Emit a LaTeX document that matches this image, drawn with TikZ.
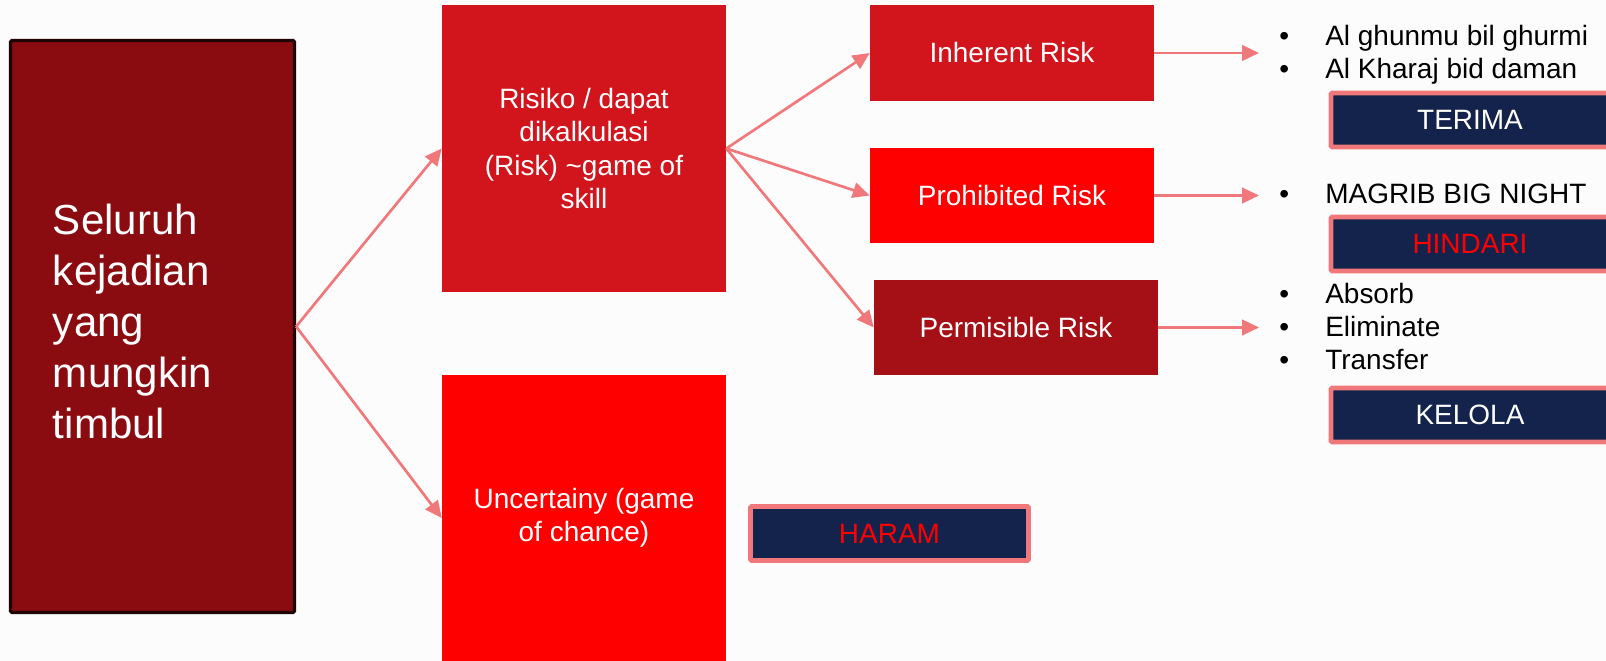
\documentclass[tikz,border=0pt]{standalone}
\usepackage{fontspec}
\setmainfont{Liberation Sans}
\usetikzlibrary{arrows.meta}

\definecolor{bgwhite}{HTML}{FCFCFC}
\definecolor{darkmaroon}{HTML}{8B0C10}
\definecolor{borderdark}{HTML}{200304}
\definecolor{riskred}{HTML}{D2141C}
\definecolor{brightred}{HTML}{FF0000}
\definecolor{permred}{HTML}{A50F16}
\definecolor{navyblue}{HTML}{14234B}
\definecolor{pinkline}{HTML}{F0787A}

\tikzset{
    riskbox/.style={fill=#1, text=white, minimum width=7.1cm, inner sep=0pt, align=center,
        font=\fontsize{19.9pt}{23.8pt}\selectfont},
    verdict/.style={draw=pinkline, line width=3.5pt, fill=navyblue, text=#1, rounded corners=1pt,
        minimum width=6.95cm, minimum height=1.35cm, font=\fontsize{19.9pt}{23.8pt}\selectfont},
    link/.style={draw=pinkline, line width=1.9pt, -{Triangle[length=12pt,width=11pt]}},
    itemlist/.style={anchor=base west, align=left, inner sep=0pt,
        font=\fontsize{19.9pt}{23.8pt}\selectfont},
}
\newcommand{\bul}{\makebox[1.15cm][l]{\textbullet}}

\begin{document}
\begin{tikzpicture}
        \useasboundingbox (0,0) rectangle (40.15,-16.525);
        \fill [bgwhite] (0,0) rectangle (40.15,-16.525);

        %% kotak utama
        \node [fill=darkmaroon, draw=borderdark, line width=2.3pt, rounded corners=1pt,
            minimum width=7.1cm, minimum height=14.3cm, text width=4.975cm, inner sep=0pt,
            align=left, text=white, font=\fontsize{29.9pt}{36.3pt}\selectfont]
            (events) at (3.8125,-8.1625) {Seluruh\strut\\ kejadian\\ yang\\ mungkin\\ timbul\strut};

        %% risiko dan ketidakpastian
        \node [riskbox=riskred, minimum height=7.175cm] (risk) at (14.6,-3.7125)
            {Risiko / dapat\\ dikalkulasi\\ (Risk) \textasciitilde game of\\ skill};
        \node [riskbox=brightred, minimum height=7.15cm] (uncert) at (14.6,-12.95)
            {Uncertainy (game\\ of chance)};

        \draw [link] (events.east) -- (risk.west);
        \draw [link] (events.east) -- (uncert.west);

        %% jenis risiko
        \node [riskbox=riskred, minimum height=2.4cm] (inherent) at (25.3,-1.325) {Inherent Risk};
        \node [riskbox=brightred, minimum height=2.375cm] (prohib) at (25.3,-4.8875) {Prohibited Risk};
        \node [riskbox=permred, minimum height=2.375cm] (permis) at (25.4,-8.1875) {Permisible Risk};

        \draw [link] (risk.east) -- (inherent.west);
        \draw [link] (risk.east) -- (prohib.west);
        \draw [link] (risk.east) -- (permis.west);

        \coordinate (inherent-end) at (31.475,-1.325);
        \coordinate (prohib-end) at (31.475,-4.8875);
        \coordinate (permis-end) at (31.475,-8.1875);

        \draw [link] (inherent.east) -- (inherent-end);
        \draw [link] (prohib.east) -- (prohib-end);
        \draw [link] (permis.east) -- (permis-end);

        %% daftar dan sikap (base = baris terakhir)
        \node [itemlist] (inherent-list) at (31.975,-1.975)
            {\bul Al ghunmu bil ghurmi\\ \bul Al Kharaj bid daman};
        \node [verdict=white] (terima) at (36.75,-3.0) {TERIMA};

        \node [itemlist] (prohib-list) at (31.975,-5.1) {\bul MAGRIB BIG NIGHT};
        \node [verdict=brightred] (hindari) at (36.75,-6.1) {HINDARI};

        \node [itemlist] (permis-list) at (31.975,-9.25)
            {\bul Absorb\\ \bul Eliminate\\ \bul Transfer};
        \node [verdict=white] (kelola) at (36.75,-10.375) {KELOLA};

        \node [verdict=brightred] (haram) at (22.2375,-13.3375) {HARAM};

\end{tikzpicture}
\end{document}
